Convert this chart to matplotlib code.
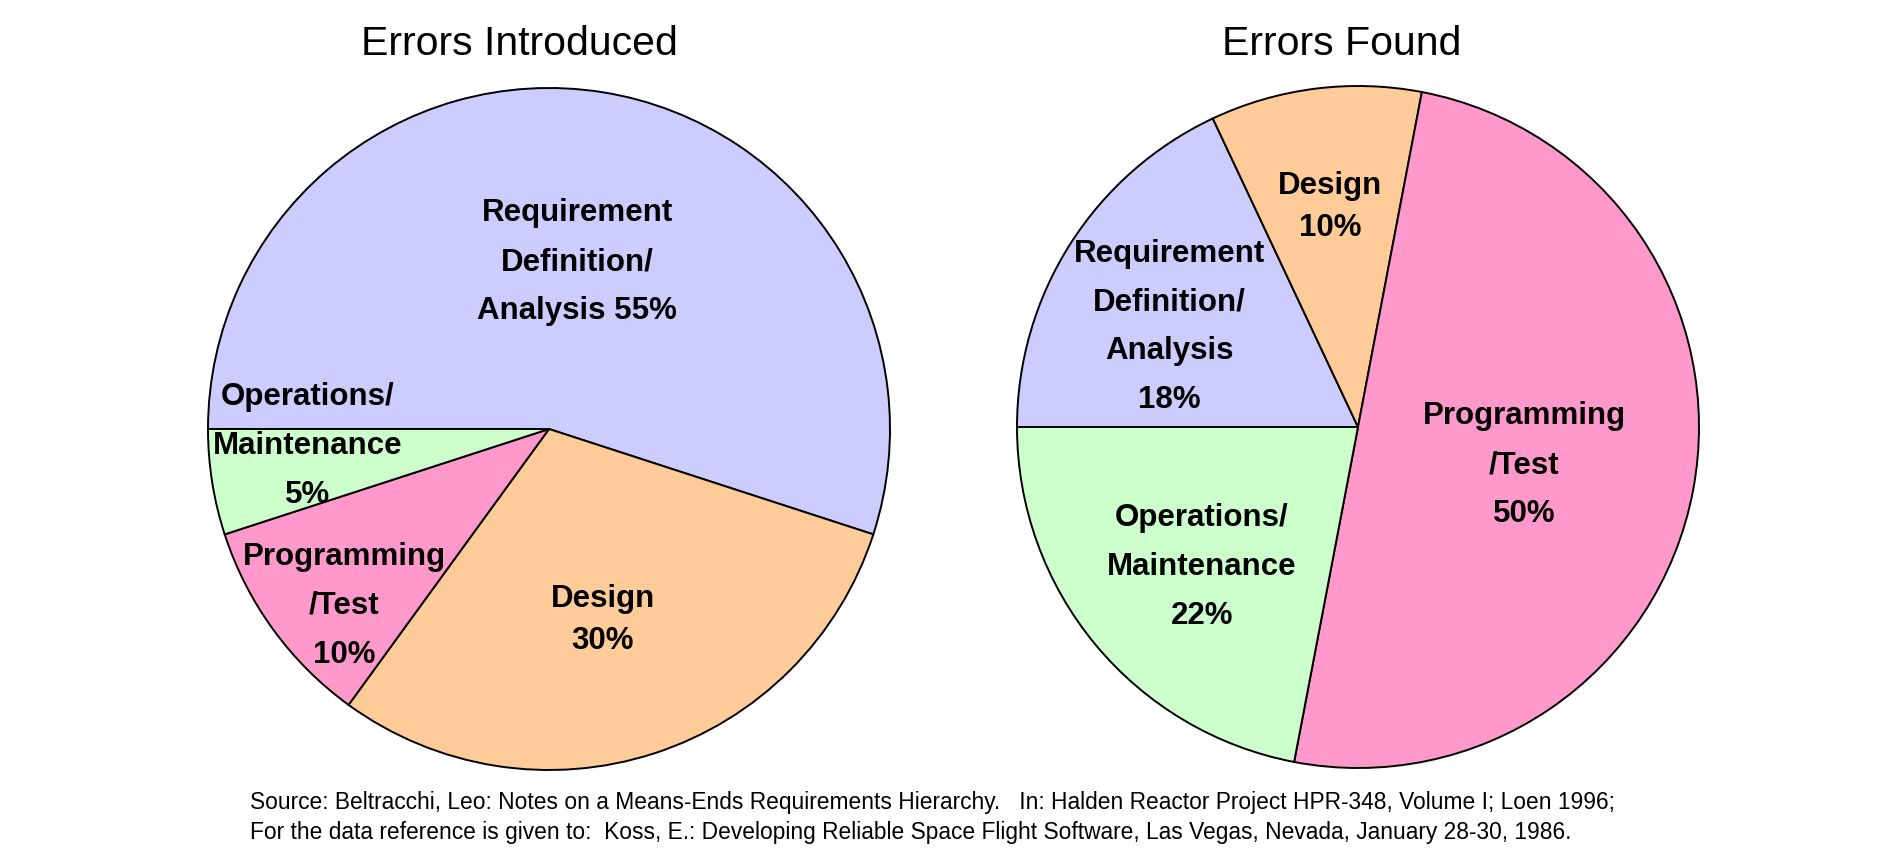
import matplotlib
matplotlib.use("Agg")
import matplotlib.pyplot as plt

# ---------------- data ----------------
titles = ["Errors Introduced", "Errors Found"]
categories_left = ["Requirement Definition/Analysis", "Design", "Programming/Test", "Operations/Maintenance"]
values_left = [55, 30, 10, 5]
categories_right = ["Requirement Definition/Analysis", "Design", "Programming/Test", "Operations/Maintenance"]
values_right = [18, 10, 50, 22]
labels_left = ["Requirement\nDefinition/\nAnalysis 55%", "Design\n30%", "Programming\n/Test\n10%",
               "Operations/\nMaintenance\n5%"]
labels_right = ["Requirement\nDefinition/\nAnalysis\n18%", "Design\n10%", "Programming\n/Test\n50%",
                "Operations/\nMaintenance\n22%"]
colors = {"Requirement Definition/Analysis": "#CCCCFF", "Design": "#FFCC99",
          "Programming/Test": "#FF99CC", "Operations/Maintenance": "#CCFFCC"}
source_lines = [
    "Source: Beltracchi, Leo: Notes on a Means-Ends Requirements Hierarchy.   In: Halden Reactor Project HPR-348, Volume I; Loen 1996;",
    "For the data reference is given to:  Koss, E.: Developing Reliable Space Flight Software, Las Vegas, Nevada, January 28-30, 1986.",
]

fam = ["Liberation Sans", "DejaVu Sans"]

W, H = 1884, 856
fig = plt.figure(figsize=(W / 100, H / 100), dpi=100)
ax = fig.add_axes([0, 0, 1, 1])

# layout (pixel coordinates, y from top)
centers = [(549, 429), (1358, 427)]
radius = 341
title_pos = [(519, 44), (1342, 44)]
label_pos_left = [(577, 262), (603, 620), (344, 606), (308, 446)]
label_pos_right = [(1169, 327), (1330, 207), (1524, 465), (1202, 567)]

for i, (cats, vals, labs, lpos) in enumerate([
        (categories_left, values_left, labels_left, label_pos_left),
        (categories_right, values_right, labels_right, label_pos_right)]):
    cx, cy = centers[i]
    ax.pie(vals, colors=[colors[c] for c in cats], startangle=180, counterclock=False,
           center=(cx, H - cy), radius=radius, frame=True,
           wedgeprops=dict(edgecolor="black", linewidth=1.4))
    for lab, (lx, ly) in zip(labs, lpos):
        nlines = lab.count("\n") + 1
        ax.text(lx, H - ly, lab, ha="center", va="center", fontsize=22.5,
                fontweight="bold", family=fam, linespacing=1.53 if nlines == 2 else 1.82)
    tx, ty = title_pos[i]
    ax.text(tx, H - ty, titles[i], ha="center", va="center", fontsize=29.5, family=fam)

ax.set_xlim(0, W)
ax.set_ylim(0, H)
ax.set_aspect("equal")
ax.axis("off")

for j, line in enumerate(source_lines):
    ax.text(250, H - (803 + 30 * j), line, ha="left", va="center", fontsize=16.4, family=fam)

fig.savefig("out.png", dpi=100, facecolor="white")
